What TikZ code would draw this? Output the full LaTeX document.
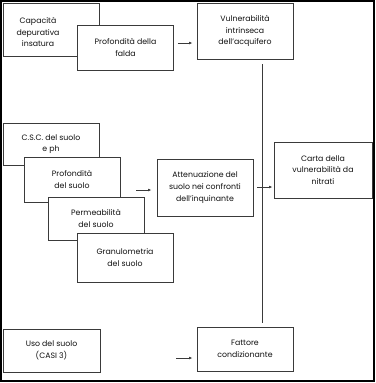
\documentclass[tikz,border=0pt]{standalone}
\usepackage{fontspec}
\setmainfont{Poppins}
\usetikzlibrary{arrows.meta,calc}
\definecolor{ln}{HTML}{3A3A3A}
\definecolor{tx}{HTML}{111111}
\begin{document}
\begin{tikzpicture}[x=1pt,y=-1pt,
  box/.style={draw=ln,line width=0.9pt,fill=white,rectangle,inner sep=0pt,
    minimum width=#1,align=center,font=\fontsize{7.8}{11.6}\selectfont,text=tx},
  box/.default=96pt,
  lbl/.style={inner sep=0pt,align=center,font=\fontsize{7.8}{11.6}\selectfont,text=tx},
  arr/.style={draw=ln,line width=0.7pt,-{Latex[length=3.5pt,width=2.8pt]}},
  link/.style={draw=ln,line width=0.9pt}]
\useasboundingbox (0,0) rectangle (375,383);
\draw[line width=2pt,black] (1,1) rectangle (373.5,380.5);
% top group
\node[box,minimum height=53pt] (cap) at (51,29.5) {};
\node[lbl] (capt) at (38,32) {Capacità\\depurativa\\insatura};
\node[box,minimum height=45pt] (falda) at (125.5,47.5) {Profondità della\\falda};
\node[box,minimum height=56pt] (vuln) at (245,31) {Vulnerabilità\\intrinseca\\dell’acquifero};
% middle group
\node[box,minimum height=42pt] (csc) at (51,144) {C.S.C. del suolo\\e ph};
\node[box,minimum height=45pt] (psuolo) at (72,179.5) {Profondità\\del suolo};
\node[box,minimum height=43pt] (perm) at (96,218.5) {Permeabilità\\del suolo};
\node[box,minimum height=49pt] (gran) at (125,257.5) {Granulometria\\del suolo};
\node[box,minimum height=57pt] (att) at (205,187.5) {Attenuazione del\\suolo nei confronti\\dell’inquinante};
\node[box,minimum width=98pt,minimum height=56pt] (carta) at (323,170) {Carta della\\vulnerabilità da\\nitrati};
% bottom group
\node[box,minimum width=97pt,minimum height=43pt] (uso) at (51.5,350.5) {Uso del suolo\\(CASI 3)};
\node[box,minimum height=44pt] (fatt) at (245,349) {Fattore\\condizionante};
% connectors
\coordinate (vx) at (262,0);
\draw[link,shorten <=5pt,shorten >=4pt] (vuln.south -| vx) -- (fatt.north -| vx);
\draw[arr,shorten <=4pt,shorten >=4pt] (falda.east |- 0,43) -- (vuln.west |- 0,43);
\draw[arr,shorten <=16pt,shorten >=5pt] (psuolo.east |- 0,190) -- (att.west |- 0,190);
\draw[arr,shorten <=4pt,shorten >=1pt] (att.east |- 0,187) -- (carta.west |- 0,187);
\draw[arr,shorten <=76pt,shorten >=4pt] (uso.east |- 0,358) -- (fatt.west |- 0,358);
\end{tikzpicture}
\end{document}
